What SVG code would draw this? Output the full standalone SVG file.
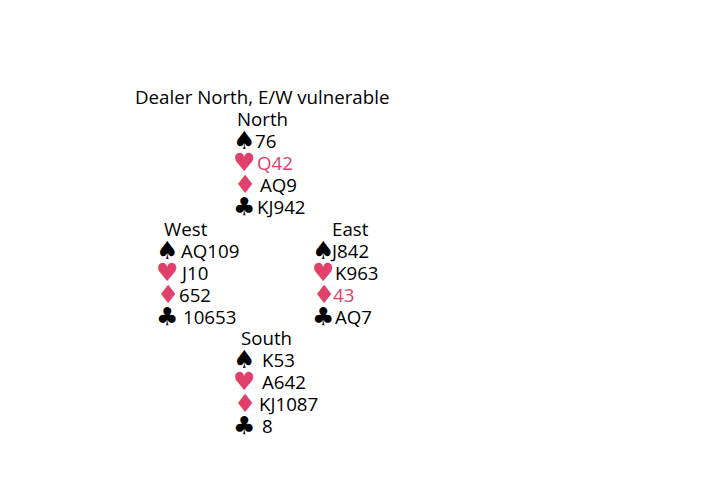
<svg xmlns="http://www.w3.org/2000/svg" width="727" height="503" viewBox="0 0 727 503">
<style>
.t{font-family:"Open Sans","Noto Sans","DejaVu Sans",sans-serif;font-size:18.7px;fill:#000}
.s{font-family:"DejaVu Sans",sans-serif;font-size:25px;fill:#000}
.r{fill:#e0406a}
</style>
<rect width="727" height="503" fill="#fff"/>
<text class="t" x="135" y="104">Dealer North, E/W vulnerable</text>
<g id="north">
<text class="t" x="237" y="126">North</text>
<text class="s" x="233" y="149">♠</text><text class="t" x="255" y="148">76</text>
<text class="s r" x="233" y="171">♥</text><text class="t r" x="257" y="170">Q42</text>
<text class="s r" x="234" y="193">♦</text><text class="t" x="260" y="192">AQ9</text>
<text class="s" x="233" y="215">♣</text><text class="t" x="257" y="214">KJ942</text>
</g>
<g id="west">
<text class="t" x="164" y="236">West</text>
<text class="s" x="156" y="259">♠</text><text class="t" x="181" y="258">AQ109</text>
<text class="s r" x="156" y="281">♥</text><text class="t" x="182" y="280">J10</text>
<text class="s r" x="157" y="303">♦</text><text class="t" x="179" y="302">652</text>
<text class="s" x="156" y="325">♣</text><text class="t" x="183" y="324">10653</text>
</g>
<g id="east">
<text class="t" x="332" y="236">East</text>
<text class="s" x="312" y="259">♠</text><text class="t" x="332" y="258">J842</text>
<text class="s r" x="312" y="281">♥</text><text class="t" x="335" y="280">K963</text>
<text class="s r" x="313" y="303">♦</text><text class="t r" x="333" y="302">43</text>
<text class="s" x="312" y="325">♣</text><text class="t" x="335" y="324">AQ7</text>
</g>
<g id="south">
<text class="t" x="241" y="345">South</text>
<text class="s" x="233" y="368">♠</text><text class="t" x="262" y="367">K53</text>
<text class="s r" x="233" y="390">♥</text><text class="t" x="262" y="389">A642</text>
<text class="s r" x="234" y="412">♦</text><text class="t" x="259" y="411">KJ1087</text>
<text class="s" x="233" y="434">♣</text><text class="t" x="262" y="433">8</text>
</g>
<g id="connectors"></g>
</svg>
